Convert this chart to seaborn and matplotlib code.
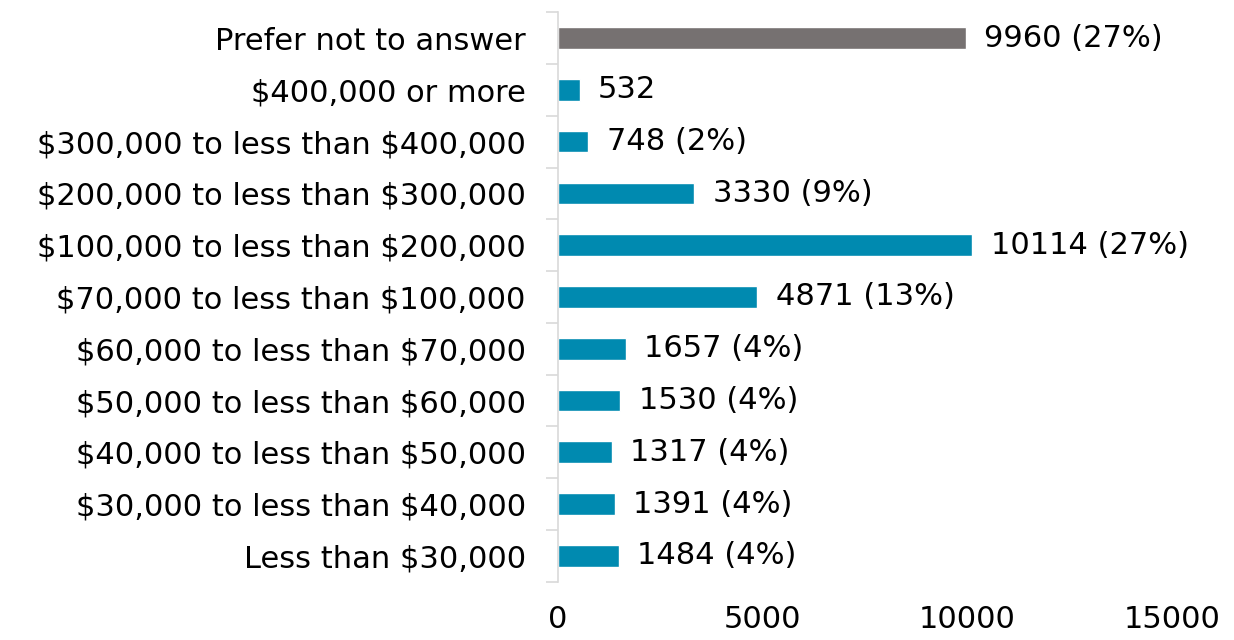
import numpy as np
import pandas as pd
from matplotlib import pyplot as plt
import seaborn as sns

categories = [
    "Prefer not to answer",
    "$400,000 or more",
    "$300,000 to less than $400,000",
    "$200,000 to less than $300,000",
    "$100,000 to less than $200,000",
    "$70,000 to less than $100,000",
    "$60,000 to less than $70,000",
    "$50,000 to less than $60,000",
    "$40,000 to less than $50,000",
    "$30,000 to less than $40,000",
    "Less than $30,000",
]
counts = [9960, 532, 748, 3330, 10114, 4871, 1657, 1530, 1317, 1391, 1484]
labels = ["9960 (27%)", "532", "748 (2%)", "3330 (9%)", "10114 (27%)", "4871 (13%)",
          "1657 (4%)", "1530 (4%)", "1317 (4%)", "1391 (4%)", "1484 (4%)"]
colors = ["#767171"] + ["#008AB0"] * 10

df = pd.DataFrame({"category": categories, "count": counts})

sns.set_style("white")
plt.rcParams["font.family"] = ["DejaVu Sans"]
plt.rcParams["text.parse_math"] = False

fig = plt.figure(figsize=(12.34, 6.4), dpi=100)
ax = fig.add_axes([0.452, 0.091, 0.498, 0.89])

sns.barplot(data=df, x="count", y="category", hue="category", palette=colors,
            legend=False, width=0.42, saturation=1, ax=ax)

for i, (v, lab) in enumerate(zip(counts, labels)):
    ax.text(v + 450, i, lab, va="center", ha="left", fontsize=22, color="#000000")

ax.set_xlim(0, 15000)
ax.set_xticks([0, 5000, 10000, 15000])
ax.set_ylim(len(categories) - 0.5, -0.5)
ax.set_xlabel("")
ax.set_ylabel("")

ax.tick_params(axis="x", length=0, labelsize=22, pad=17, labelcolor="#000000")
ax.tick_params(axis="y", which="major", length=0, labelsize=22, pad=23, labelcolor="#000000")
ax.set_yticks(np.arange(-0.5, len(categories), 1), minor=True)
ax.tick_params(axis="y", which="minor", left=True, length=9, color="#D9D9D9", width=1.2)

for s in ["top", "right", "bottom"]:
    ax.spines[s].set_visible(False)
ax.spines["left"].set_color("#D9D9D9")
ax.spines["left"].set_linewidth(1.2)

fig.savefig("out.png", dpi=100)
